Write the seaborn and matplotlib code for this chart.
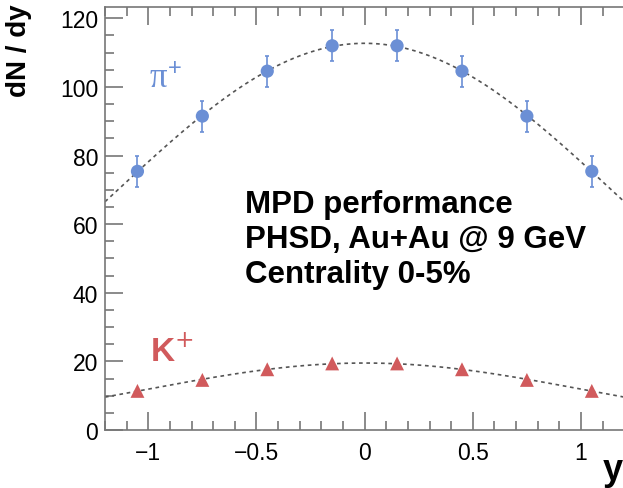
import numpy as np
import pandas as pd
import matplotlib
matplotlib.use("Agg")
import matplotlib.pyplot as plt
from matplotlib.ticker import MultipleLocator
import seaborn as sns

# ---- data ----
rapidity = [-1.05, -0.75, -0.45, -0.15, 0.15, 0.45, 0.75, 1.05]
pion_dndy = [75.4, 91.5, 104.6, 112.0, 112.0, 104.6, 91.5, 75.4]
pion_err = [4.5, 4.5, 4.5, 4.5, 4.5, 4.5, 4.5, 4.5]
kaon_dndy = [11.4, 14.6, 17.7, 19.4, 19.4, 17.7, 14.6, 11.4]
x_ticks = [-1, -0.5, 0, 0.5, 1]
x_ticklabels = ["\u22121", "\u22120.5", "0", "0.5", "1"]
y_ticks = [0, 20, 40, 60, 80, 100, 120]
info_lines = ["MPD performance", "PHSD, Au+Au @ 9 GeV", "Centrality 0-5%"]

pion_color = "#6b8fd5"
kaon_color = "#d15a5c"

sns.set_style("ticks")
plt.rcParams["font.family"] = ["Liberation Sans", "DejaVu Sans"]
plt.rcParams["text.color"] = "black"

fig = plt.figure(figsize=(6.23, 4.89), dpi=100)
ax = fig.add_axes([105 / 623, 58 / 489, 1 - 105 / 623 + 0.002, (431 - 8) / 489])

df = pd.DataFrame({"y": rapidity, "pi": pion_dndy, "err": pion_err, "K": kaon_dndy})

# Gaussian fits to the data (log-quadratic in y)
grid = np.linspace(-1.2, 1.2, 200)
def gauss_fit(x, v):
    c = np.polyfit(np.asarray(x) ** 2, np.log(v), 1)
    return np.exp(c[1] + c[0] * grid ** 2)
fits = pd.DataFrame({"y": grid, "pi": gauss_fit(rapidity, pion_dndy),
                     "K": gauss_fit(rapidity, kaon_dndy)})

for col in ["pi", "K"]:
    sns.lineplot(data=fits, x="y", y=col, ax=ax, color="#555555", lw=1.2,
                 linestyle=(0, (2.2, 2.2)), zorder=2)

ax.errorbar(df["y"], df["pi"], yerr=df["err"], fmt="none", ecolor=pion_color,
            elinewidth=1.2, capsize=1.5, capthick=1.2, zorder=3)
sns.scatterplot(data=df, x="y", y="pi", ax=ax, color=pion_color, marker="o",
                s=90, edgecolor="none", zorder=4)
sns.scatterplot(data=df, x="y", y="K", ax=ax, color=kaon_color, marker="^",
                s=100, edgecolor="none", zorder=4)

ax.set_xlim(-1.2, 1.2)
ax.set_ylim(0, 123.3)
ax.set_xlabel("")
ax.set_ylabel("")
ax.set_xticks(x_ticks)
ax.set_xticklabels(x_ticklabels)
ax.set_yticks(y_ticks)
ax.xaxis.set_minor_locator(MultipleLocator(0.1))
ax.yaxis.set_minor_locator(MultipleLocator(5))
ax.tick_params(which="both", direction="in", top=True, right=False,
               colors="#777777", labelcolor="black", labelsize=16.5, width=1.2)
ax.tick_params(which="major", length=13)
ax.tick_params(which="minor", length=6.5)
ax.tick_params(axis="x", pad=8)
ax.tick_params(axis="y", pad=5)
for s in ["left", "bottom", "top"]:
    ax.spines[s].set_color("#777777")
    ax.spines[s].set_linewidth(1.2)
ax.spines["right"].set_visible(False)

# pi+ label: upright serif pi with a superscript plus
ax.annotate("\u03c0", xy=(-0.995, 100.2), xycoords="data", color=pion_color,
            fontsize=25, family=["Liberation Serif", "DejaVu Serif"],
            ha="left", va="baseline")
ax.annotate("+", xy=(-0.995, 100.2), xycoords="data", xytext=(13, 9),
            textcoords="offset points", color=pion_color, fontsize=17,
            family=["Liberation Sans", "DejaVu Sans"], ha="left", va="baseline")
ax.text(-0.99, 20.2, r"K$^{+}$", color=kaon_color, fontsize=24,
        fontweight="bold", ha="left", va="baseline")

for line, yb in zip(info_lines, [63.5, 53.3, 43.1]):
    ax.text(-0.555, yb, line, fontsize=22.5, fontweight="bold", color="black",
            ha="left", va="baseline")

fig.text(19 / 623, 1 - 51 / 489, "dN / dy", rotation=90, fontsize=20,
         fontweight="bold", color="black", ha="center", va="center")
fig.text(0.999, 9 / 489, "y", fontsize=26, fontweight="bold", color="black",
         ha="right", va="baseline")

fig.savefig("out.png", dpi=100)
